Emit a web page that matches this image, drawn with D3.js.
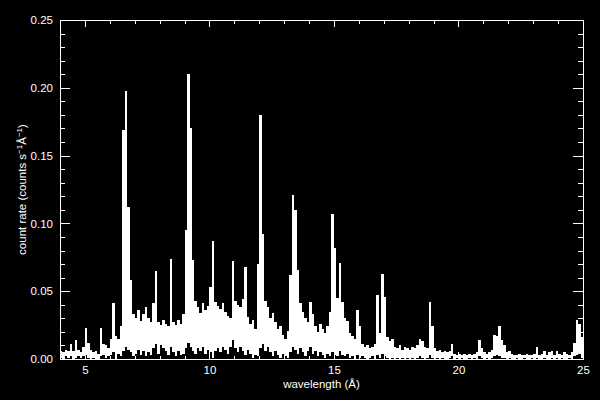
<!DOCTYPE html>
<meta charset="utf-8">
<script src="https://d3js.org/d3.v7.min.js"></script>
<style>
body {
    margin:0;
    background:#000;
    overflow:hidden;
}
svg text {
    font-family:'Liberation Sans', Arial, sans-serif;
    fill:#fff;
}
</style>
<svg width="600" height="400"></svg>
<script>

// spectrum, 0.1 A bins starting at 4.0 A (one row = 1 A)
var binStart = 4.0
var binWidth = 0.1

// upper envelope of the count rate in each bin (counts s^-1 A^-1)
var hi = [
    0.006,0.005,0.007,0.006,0.011,0.006,0.014,0.007,0.005,0.009,
    0.023,0.012,0.007,0.005,0.006,0.004,0.023,0.011,0.010,0.008,
    0.015,0.041,0.017,0.015,0.024,0.169,0.198,0.112,0.058,0.033,
    0.030,0.036,0.028,0.033,0.038,0.030,0.027,0.041,0.065,0.027,
    0.025,0.029,0.026,0.024,0.074,0.027,0.025,0.029,0.026,0.033,
    0.095,0.210,0.170,0.073,0.043,0.038,0.034,0.041,0.036,0.039,
    0.053,0.087,0.042,0.039,0.037,0.041,0.035,0.032,0.030,0.072,
    0.043,0.040,0.038,0.044,0.068,0.031,0.026,0.029,0.022,0.070,
    0.180,0.092,0.043,0.038,0.030,0.034,0.027,0.022,0.024,0.018,
    0.015,0.021,0.062,0.121,0.110,0.066,0.041,0.035,0.030,0.027,
    0.042,0.033,0.024,0.020,0.026,0.022,0.019,0.024,0.035,0.107,
    0.082,0.045,0.071,0.042,0.030,0.028,0.019,0.017,0.015,0.036,
    0.024,0.011,0.009,0.010,0.008,0.009,0.011,0.047,0.019,0.063,
    0.046,0.016,0.013,0.015,0.009,0.008,0.010,0.007,0.009,0.008,
    0.007,0.009,0.008,0.010,0.015,0.013,0.009,0.008,0.042,0.024,
    0.008,0.006,0.007,0.005,0.006,0.005,0.006,0.011,0.004,0.003,
    0.004,0.003,0.004,0.003,0.004,0.003,0.004,0.005,0.014,0.008,
    0.005,0.004,0.005,0.007,0.018,0.017,0.024,0.014,0.010,0.005,
    0.006,0.004,0.003,0.003,0.004,0.003,0.003,0.004,0.003,0.003,
    0.004,0.009,0.003,0.004,0.006,0.003,0.005,0.006,0.003,0.006,
    0.004,0.003,0.005,0.004,0.003,0.005,0.012,0.029,0.026,0.016
]

// lower envelope in each bin
var lo = [
    0.001,0.000,0.002,0.001,0.002,0.000,0.001,0.002,0.001,0.002,
    0.003,0.001,0.000,0.001,0.000,0.000,0.002,0.003,0.001,0.002,
    0.003,0.005,0.000,0.004,0.002,0.006,0.009,0.007,0.005,0.002,
    0.004,0.007,0.003,0.006,0.002,0.005,0.003,0.008,0.011,0.004,
    0.010,0.008,0.006,0.003,0.009,0.005,0.002,0.006,0.003,0.004,
    0.008,0.012,0.009,0.006,0.004,0.008,0.006,0.009,0.004,0.007,
    0.005,0.001,0.006,0.008,0.005,0.009,0.007,0.004,0.009,0.014,
    0.008,0.005,0.009,0.006,0.003,0.007,0.004,0.001,0.003,0.002,
    0.008,0.011,0.006,0.009,0.005,0.002,0.006,0.003,0.001,0.004,
    0.002,0.001,0.005,0.009,0.007,0.004,0.008,0.005,0.002,0.006,
    0.009,0.004,0.006,0.002,0.005,0.003,0.001,0.004,0.002,0.005,
    0.003,0.002,0.006,0.003,0.002,0.004,0.001,0.002,0.000,0.003,
    0.001,0.002,0.001,0.000,0.001,0.002,0.000,0.003,0.001,0.004,
    0.002,0.001,0.000,0.001,0.000,0.001,0.000,0.001,0.000,0.001,
    0.000,0.001,0.000,0.001,0.002,0.001,0.000,0.001,0.003,0.001,
    0.000,0.001,0.000,0.001,0.000,0.000,0.001,0.002,0.000,0.001,
    0.000,0.001,0.000,0.000,0.001,0.000,0.001,0.000,0.002,0.001,
    0.000,0.001,0.000,0.001,0.002,0.003,0.002,0.001,0.001,0.000,
    0.001,0.000,0.000,0.001,0.000,0.000,0.001,0.000,0.000,0.001,
    0.000,0.001,0.000,0.000,0.001,0.000,0.000,0.001,0.000,0.001,
    0.000,0.001,0.000,0.000,0.001,0.000,0.002,0.003,0.004,0.001
]

var xMajor = [5, 10, 15, 20, 25]
var xMinor = [4, 6, 7, 8, 9, 11, 12, 13, 14, 16, 17, 18, 19, 21, 22, 23, 24]
var yMajor = [0, 0.05, 0.10, 0.15, 0.20, 0.25]
var yMinor = [0.01, 0.02, 0.03, 0.04, 0.06, 0.07, 0.08, 0.09, 0.11, 0.12, 0.13, 0.14,
              0.16, 0.17, 0.18, 0.19, 0.21, 0.22, 0.23, 0.24]

var svg = d3.select('svg')
// plot box (window.top is read-only, so no plain "top" here)
var boxL = 60, boxR = 583, boxT = 20, boxB = 359

var x = d3.scaleLinear().domain([4, 25]).range([boxL, boxR])
var y = d3.scaleLinear().domain([0, 0.25]).range([boxB, boxT])

var bins = hi.map(function(v, i) {
    return { w: binStart + i * binWidth, hi: v, lo: lo[i] }
})
// closing point so the last step gets its width
var last = bins[bins.length - 1]
bins.push({ w: last.w + binWidth, hi: last.hi, lo: last.lo })

svg.append('clipPath').attr('id', 'box')
    .append('rect')
    .attr('x', boxL).attr('y', boxT)
    .attr('width', boxR - boxL).attr('height', boxB - boxT)

var area = d3.area()
    .curve(d3.curveStepAfter)
    .x(function(d) { return x(d.w) })
    .y0(function(d) { return y(d.lo) })
    .y1(function(d) { return y(d.hi) })

svg.append('path')
    .datum(bins)
    .attr('clip-path', 'url(#box)')
    .attr('fill', '#fff')
    .attr('shape-rendering', 'crispEdges')
    .attr('d', area)

// IDL style box with inward ticks
var xLen = 7, yLen = 10

function tickAxis(axis, values, len, labels) {
    return axis.tickValues(values).tickSize(-len).tickPadding(labels ? 7 : 0)
        .tickFormat(labels ? labels : '')
}

function drawAxis(g) {
    g.attr('shape-rendering', 'crispEdges')
    g.select('.domain').remove()
    g.selectAll('line').attr('stroke', '#fff')
    g.selectAll('text').attr('font-size', 11.5).attr('fill', '#fff')
}

svg.append('g').attr('transform', 'translate(0,' + boxB + ')')
    .call(tickAxis(d3.axisBottom(x), xMajor, xLen, d3.format('d'))).call(drawAxis)
svg.append('g').attr('transform', 'translate(0,' + boxB + ')')
    .call(tickAxis(d3.axisBottom(x), xMinor, xLen / 2)).call(drawAxis)
svg.append('g').attr('transform', 'translate(0,' + boxT + ')')
    .call(tickAxis(d3.axisTop(x), xMajor, xLen)).call(drawAxis)
svg.append('g').attr('transform', 'translate(0,' + boxT + ')')
    .call(tickAxis(d3.axisTop(x), xMinor, xLen / 2)).call(drawAxis)

svg.append('g').attr('transform', 'translate(' + boxL + ',0)')
    .call(tickAxis(d3.axisLeft(y), yMajor, yLen, d3.format('.2f'))).call(drawAxis)
svg.append('g').attr('transform', 'translate(' + boxL + ',0)')
    .call(tickAxis(d3.axisLeft(y), yMinor, yLen / 2)).call(drawAxis)
svg.append('g').attr('transform', 'translate(' + boxR + ',0)')
    .call(tickAxis(d3.axisRight(y), yMajor, yLen)).call(drawAxis)
svg.append('g').attr('transform', 'translate(' + boxR + ',0)')
    .call(tickAxis(d3.axisRight(y), yMinor, yLen / 2)).call(drawAxis)

svg.append('rect')
    .attr('x', boxL + 0.5).attr('y', boxT + 0.5)
    .attr('width', boxR - boxL).attr('height', boxB - boxT)
    .attr('fill', 'none')
    .attr('stroke', '#fff')
    .attr('shape-rendering', 'crispEdges')

// axis titles
svg.append('text')
    .attr('x', (boxL + boxR) / 2)
    .attr('y', 388)
    .attr('text-anchor', 'middle')
    .attr('font-size', 11.5)
    .text('wavelength (Å)')

var yt = svg.append('text')
    .attr('transform', 'translate(26,' + (boxT + boxB) / 2 + ') rotate(-90)')
    .attr('text-anchor', 'middle')
    .attr('font-size', 11.5)
yt.append('tspan').text('count rate (counts s')
yt.append('tspan').attr('dy', -4).attr('font-size', 8).text('−1')
yt.append('tspan').attr('dy', 4).text('Å')
yt.append('tspan').attr('dy', -4).attr('font-size', 8).text('−1')
yt.append('tspan').attr('dy', 4).text(')')

</script>
